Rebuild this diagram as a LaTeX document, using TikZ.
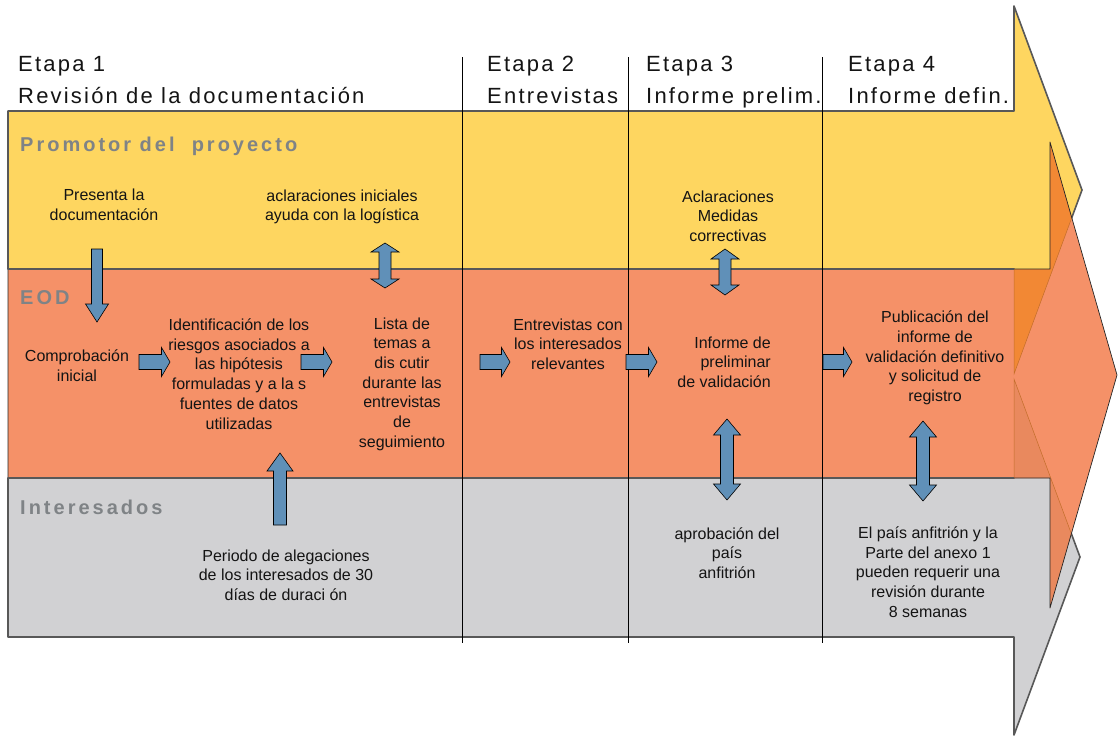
\documentclass[tikz,border=0pt]{standalone}
\usepackage{fontspec}
\setmainfont{Liberation Sans}
\newfontfamily\stagefont[LetterSpace=10]{Liberation Sans}
\newfontfamily\lanefont[LetterSpace=15]{Liberation Sans}
\usetikzlibrary{calc}
\definecolor{promyellow}{RGB}{254,214,96}
\definecolor{eodorange}{RGB}{245,145,104}
\definecolor{intgrey}{RGB}{209,209,211}
\definecolor{lanegrey}{RGB}{127,131,134}
\definecolor{arrowblue}{RGB}{96,144,184}
\definecolor{deeporange}{RGB}{242,136,52}
\definecolor{dullorange}{RGB}{233,137,94}
\definecolor{edgegrey}{RGB}{88,88,88}
\definecolor{txtcol}{RGB}{20,20,20}
% block arrow: tail, tip, shaft half width, head half width, head length
\newcommand{\blockarrow}[5]{\draw[barrow]($(#1)!#3!90:(#2)$)--($(#2)!#5!(#1)!#3!-90:(#1)$)--($(#2)!#5!(#1)!#4!-90:(#1)$)--(#2)--($(#2)!#5!(#1)!#4!90:(#1)$)--($(#2)!#5!(#1)!#3!90:(#1)$)--($(#1)!#3!-90:(#2)$)--cycle;}
% same, with a head at both ends
\newcommand{\twinarrow}[5]{\draw[barrow](#1)--($(#1)!#5!(#2)!#4!90:(#2)$)--($(#1)!#5!(#2)!#3!90:(#2)$)--($(#2)!#5!(#1)!#3!-90:(#1)$)--($(#2)!#5!(#1)!#4!-90:(#1)$)--(#2)--($(#2)!#5!(#1)!#4!90:(#1)$)--($(#2)!#5!(#1)!#3!90:(#1)$)--($(#1)!#5!(#2)!#3!-90:(#2)$)--($(#1)!#5!(#2)!#4!-90:(#2)$)--cycle;}
\begin{document}
\begin{tikzpicture}[x=1pt,y=-1pt,
 yshape/.style={insert path={(8,111)--(1014,111)--(1014,6)--(1082,190)--(1014,374)--(1014,269)--(8,269)--cycle}},
 oshape/.style={insert path={(8,269)--(1050,269)--(1050,142)--(1117,375)--(1050,608)--(1050,478)--(8,478)--cycle}},
 gshape/.style={insert path={(8,478)--(1014,478)--(1014,379)--(1080,557)--(1014,735)--(1014,637)--(8,637)--cycle}},
 lane/.style={draw=edgegrey,line width=1.6pt,line join=round},
 barrow/.style={draw=black,line width=0.6pt,fill=arrowblue,line join=miter},
 txt/.style={font=\fontsize{16}{19.7}\selectfont,text=txtcol,align=center,inner sep=0pt},
 stage/.style={font=\stagefont\fontsize{22}{26}\selectfont,text=txtcol,anchor=base west,inner sep=0pt},
 lanelabel/.style={font=\lanefont\bfseries\fontsize{20}{23}\selectfont,text=lanegrey,anchor=base west,inner sep=0pt}]
\useasboundingbox(0,0)rectangle(1119,736);
% the three lanes
\path[lane,fill=promyellow,yshape];
\path[lane,fill=intgrey,gshape];
\path[fill=eodorange,oshape];
\begin{scope}
\clip[oshape];
\fill[deeporange,yshape];
\fill[dullorange,gshape];
\draw[deeporange!80!black,line width=0.5pt](1014,269)--(1014,374)--(1082,190);
\draw[deeporange!80!black,line width=0.5pt](1014,478)--(1014,379)--(1080,557);
\end{scope}
\path[draw=black!85,line width=0.7pt,line join=round,oshape];
\draw[lane](8,269)--(1014,269);
\draw[lane](8,478)--(1014,478);
% stages
\foreach \x/\n/\a/\b in {18/1/Etapa 1/Revisión de la documentación,487/2/Etapa 2/Entrevistas,646/3/Etapa 3/Informe prelim.,848/4/Etapa 4/Informe defin.}{
\node[stage](st\n a)at(\x,71){\a};
\node[stage](st\n b)at(\x,103){\b};}
\foreach \x in {462.5,628.5,822.5}{\draw[line width=0.8pt](\x,57)--(\x,643);}
% lane names
\node[lanelabel](prom)at(20,151){Promotor del\ \ proyecto};
\node[lanelabel](eod)at(20,304){EOD};
\node[lanelabel](inte)at(20,514){Interesados};
% texts
\node[txt](pres)at(104,205){Presenta la\\documentación};
\node[txt](acla)at(342,207){aclaraciones iniciales\\ayuda con la logística};
\node[txt](corr)at(728,216){Aclaraciones\\Medidas\\correctivas};
\node[txt](comp)at(77,366){Comprobación\\inicial};
\node[txt](iden)at(239,374){Identificación de los\\riesgos asociados a\\las hipótesis\\formuladas y a la s\\fuentes de datos\\utilizadas};
\node[txt](lista)at(402,384){Lista de\\temas a\\dis cutir\\durante las\\entrevistas\\de\\seguimiento};
\node[txt](entr)at(568,344){Entrevistas con\\los interesados\\relevantes};
\node[txt,align=right,anchor=east](prel)at(771,362){Informe de\\preliminar\\de validación};
\node[txt](publ)at(935,358){Publicación del\\informe de\\validación definitivo\\y solicitud de\\registro};
\node[txt](peri)at(286,575){Periodo de alegaciones\\de los interesados de 30\\días de duraci ón};
\node[txt](apro)at(727,553){aprobación del\\país\\anfitrión};
\node[txt](pais)at(928,572){El país anfitrión y la\\Parte del anexo 1\\pueden requerir una\\revisión durante\\8 semanas};
% arrow ends
\coordinate(presout)at(97,249);\coordinate(compin)at(97,322);
\coordinate(perout)at(280,525);\coordinate(idenin)at(280,453);
\coordinate(r1a)at(139,362);\coordinate(r1b)at(170,362);
\coordinate(r2a)at(301,362);\coordinate(r2b)at(332,362);
\coordinate(r3a)at(480,362);\coordinate(r3b)at(510,362);
\coordinate(r4a)at(626,362);\coordinate(r4b)at(657,362);
\coordinate(r5a)at(823,362);\coordinate(r5b)at(852,362);
\coordinate(v1a)at(385,243);\coordinate(v1b)at(385,288);
\coordinate(v2a)at(725,249);\coordinate(v2b)at(725,295);
\coordinate(v3a)at(727,419);\coordinate(v3b)at(727,500);
\coordinate(v4a)at(923,421);\coordinate(v4b)at(923,501);
\blockarrow{presout}{compin}{5.5pt}{11.5pt}{18pt}
\blockarrow{perout}{idenin}{6.5pt}{13pt}{18pt}
\foreach \a/\b in {r1a/r1b,r2a/r2b,r3a/r3b,r4a/r4b,r5a/r5b}{\blockarrow{\a}{\b}{7.5pt}{14.5pt}{8.5pt}}
\twinarrow{v1a}{v1b}{6pt}{14pt}{9pt}
\twinarrow{v2a}{v2b}{6pt}{14pt}{10pt}
\foreach \a/\b in {v3a/v3b,v4a/v4b}{\twinarrow{\a}{\b}{6.5pt}{13.5pt}{16pt}}
\end{tikzpicture}
\end{document}
